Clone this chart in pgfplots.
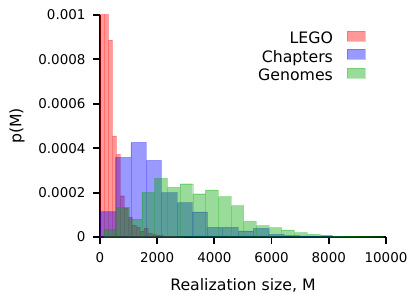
\documentclass[border=0pt]{standalone}
\usepackage{fontspec}
\setmainfont{DejaVu Sans}
\usepackage{pgfplots}
\pgfplotsset{compat=1.18}
\definecolor{gcol}{rgb}{0,0.65,0}
\begin{document}
\begin{tikzpicture}
\useasboundingbox (-100bp,-61bp) rectangle (316bp,237bp);
\begin{axis}[
 at={(0,0)}, anchor=south west,
 scale only axis, width=286bp, height=222bp,
 xmin=0, xmax=10000, ymin=0, ymax=0.001,
 axis x line*=bottom, axis y line*=left,
 axis line style={-, line width=1.8bp, black},
 xtick pos=left, ytick pos=left,
 tick style={black, line width=1.8bp},
 major tick length=7bp, tick align=outside,
 xtick={0,2000,4000,6000,8000,10000}, xticklabels={0,2000,4000,6000,8000,10000},
 ytick={0,0.0002,0.0004,0.0006,0.0008,0.001}, yticklabels={0,0.0002,0.0004,0.0006,0.0008,0.001},
 scaled y ticks=false, scaled x ticks=false,
 tick label style={font=\fontsize{13.5}{16}\selectfont},
 xticklabel style={yshift=-5bp},
 yticklabel style={xshift=-4bp},
 xlabel={Realization size, M}, ylabel={p(M)},
 label style={font=\fontsize{15.8}{19}\selectfont},
 xlabel style={at={(axis description cs:0.5,-0.2432)}, anchor=base},
 ylabel style={at={(axis description cs:-0.29,0.5)}, anchor=center},
 legend plot pos=right, legend cell align=right,
 legend style={draw=none, fill=none, at={(axis description cs:0.927,0.929)}, anchor=north east,
   font=\fontsize{15.8}{19}\selectfont, inner sep=0pt, row sep=0.7bp, column sep=13bp,
   nodes={inner sep=1bp, text height=11.5bp, text depth=3.8bp}},
 legend image code/.code={\fill[#1] (0bp,-1.25bp) rectangle (17.6bp,8.75bp);},
]
\addplot[ybar interval, fill=red, fill opacity=0.4, draw=red, draw opacity=0.25, line width=0.4bp] coordinates {
(17,0.0028) (155,0.0021) (293,0.000887) (431,0.000455) (569,0.000372) (707,0.000186) (845,0.00013) (983,0.00009) (1121,0.000054) (1259,0.000046) (1397,0.000027) (1535,0.00004) (1673,0.000017) (1811,0.000012) (1949,0.000008) (2087,0.000006) (2225,0.000004) (2363,0.000003) (2501,0.000002) (2639,0.000002) (2777,0.000001) (2915,0)
};
\addlegendentry{LEGO}
\addplot[ybar interval, fill=blue, fill opacity=0.4, draw=blue, draw opacity=0.25, line width=0.4bp] coordinates {
(10,0.000114) (545,0.000359) (1080,0.000426) (1615,0.000345) (2150,0.0002) (2685,0.000155) (3220,0.000113) (3755,0.000043) (4290,0.000043) (4825,0.000028) (5360,0.000039) (5895,0.000012) (6430,0.000006) (6965,0.000005) (7500,0.000003) (8035,0.000002) (8570,0.000001) (9105,0.000001) (9640,0)
};
\addlegendentry{Chapters}
\addplot[ybar interval, fill=gcol, fill opacity=0.4, draw=gcol, draw opacity=0.25, line width=0.4bp] coordinates {
(135,0.000036) (579,0.000135) (1023,0.00008) (1467,0.000201) (1911,0.000264) (2355,0.000224) (2799,0.00024) (3243,0.000195) (3687,0.000212) (4131,0.000182) (4575,0.000141) (5019,0.00007) (5463,0.000051) (5907,0.000042) (6351,0.000032) (6795,0.00002) (7239,0.000012) (7683,0.000009) (8127,0.0000045) (8571,0.000004) (9015,0.000003) (9459,0.000002) (9903,0)
};
\addlegendentry{Genomes}
\end{axis}
\end{tikzpicture}
\end{document}
